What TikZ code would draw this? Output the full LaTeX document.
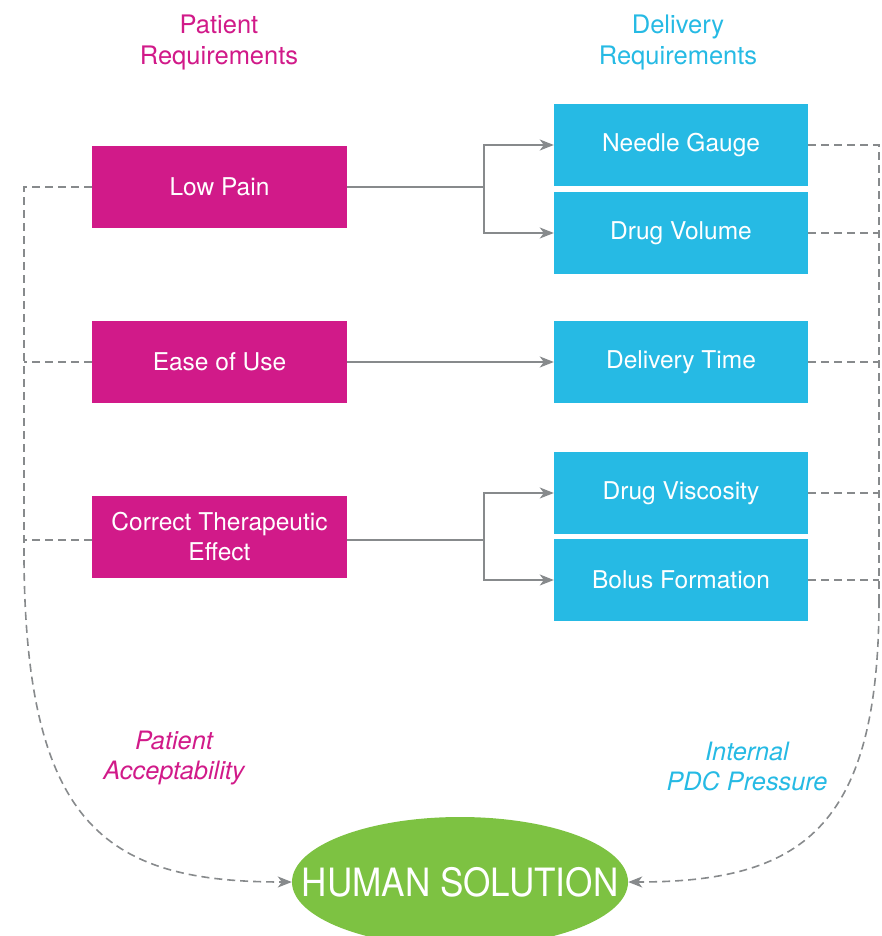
\documentclass[tikz,border=0pt]{standalone}
\usepackage{fontspec}
\setmainfont{TeX Gyre Heros}
\usetikzlibrary{arrows.meta,shapes.geometric}
\definecolor{pmag}{RGB}{209,26,137}
\definecolor{dblue}{RGB}{38,186,228}
\definecolor{hgreen}{RGB}{125,194,66}
\definecolor{lgray}{RGB}{135,138,140}
\tikzset{
  pbox/.style={fill=pmag, draw=none, minimum width=255pt, minimum height=82pt, inner sep=0pt,
    text=white, align=center, font=\fontsize{24.5}{30}\selectfont},
  dbox/.style={fill=dblue, draw=none, minimum width=254pt, minimum height=82pt, inner sep=0pt,
    text=white, align=center, font=\fontsize{24.5}{30}\selectfont},
  head/.style={align=center, font=\fontsize{25.5}{31}\selectfont},
  side/.style={align=center, font=\itshape\fontsize{25.3}{30}\selectfont},
  link/.style={draw=lgray, line width=1.6pt, -{Stealth[length=14pt,width=11pt,inset=4pt]}},
  plain/.style={draw=lgray, line width=1.6pt},
  feed/.style={draw=lgray, line width=1.6pt, dash pattern=on 8pt off 5pt},
  tip/.style={-{Stealth[length=14pt,width=11pt,inset=4pt,fill=lgray]}}
}
\begin{document}
\begin{tikzpicture}[x=1pt,y=-1pt]
\useasboundingbox (0,0) rectangle (882,936);

% column headings
\node[head, text=pmag] (hp) at (219,42) {Patient\\Requirements};
\node[head, text=dblue] (hd) at (678,42) {Delivery\\Requirements};

% patient requirement boxes
\node[pbox] (pain) at (219.5,187) {Low Pain};
\node[pbox] (ease) at (219.5,362) {Ease of Use};
\node[pbox] (ther) at (219.5,537) {Correct Therapeutic\\Effect};

% delivery requirement boxes
\node[dbox] (needle) at (681,145) {Needle Gauge};
\node[dbox] (volume) at (681,233) {Drug Volume};
\node[dbox] (time)   at (681,362) {Delivery Time};
\node[dbox] (visc)   at (681,493) {Drug Viscosity};
\node[dbox] (bolus)  at (681,580) {Bolus Formation};

% outcome
\node[ellipse, fill=hgreen, minimum width=336pt, minimum height=130pt, inner sep=0pt] (human) at (460,882) {};
\node[text=white, inner sep=0pt, font=\fontsize{39}{40}\selectfont] (humantext) at (human.center)
  {\scalebox{0.9}[1]{HUMAN SOLUTION}};

% requirement links
\coordinate (j1) at (484,187);
\coordinate (j3) at (484,540);
\draw[plain] (pain.east) -- (j1);
\draw[link] (j1) |- (needle.west);
\draw[link] (j1) |- (volume.west);
\draw[link] (ease.east) -- (time.west);
\draw[plain] (ther.east |- j3) -- (j3);
\draw[link] (j3) |- (visc.west);
\draw[link] (j3) |- (bolus.west);

% patient-side feedback
\coordinate (lt) at (24,187);
\coordinate (lb) at (24,560);
\draw[feed] (pain.west) -- (lt) -- (lb);
\draw[feed] (ease.west) -- (ease.west -| lt);
\draw[feed] (ther.west |- j3) -- (j3 -| lt);
\draw[feed, tip] (lb) .. controls (26,830) and (110,882) .. (human.west);

% delivery-side feedback
\coordinate (rt) at (879,145);
\coordinate (rb) at (879,600);
\draw[feed] (needle.east) -- (rt) -- (rb);
\draw[feed] (volume.east) -- (volume.east -| rt);
\draw[feed] (time.east) -- (time.east -| rt);
\draw[feed] (visc.east) -- (visc.east -| rt);
\draw[feed] (bolus.east) -- (bolus.east -| rt);
\draw[feed, tip] (rb) .. controls (879,830) and (800,882) .. (human.east);

% path labels
\node[side, text=pmag] (pa) at (174,758) {Patient\\Acceptability};
\node[side, text=dblue] (pp) at (747,766) {Internal\\PDC Pressure};
\end{tikzpicture}
\end{document}
